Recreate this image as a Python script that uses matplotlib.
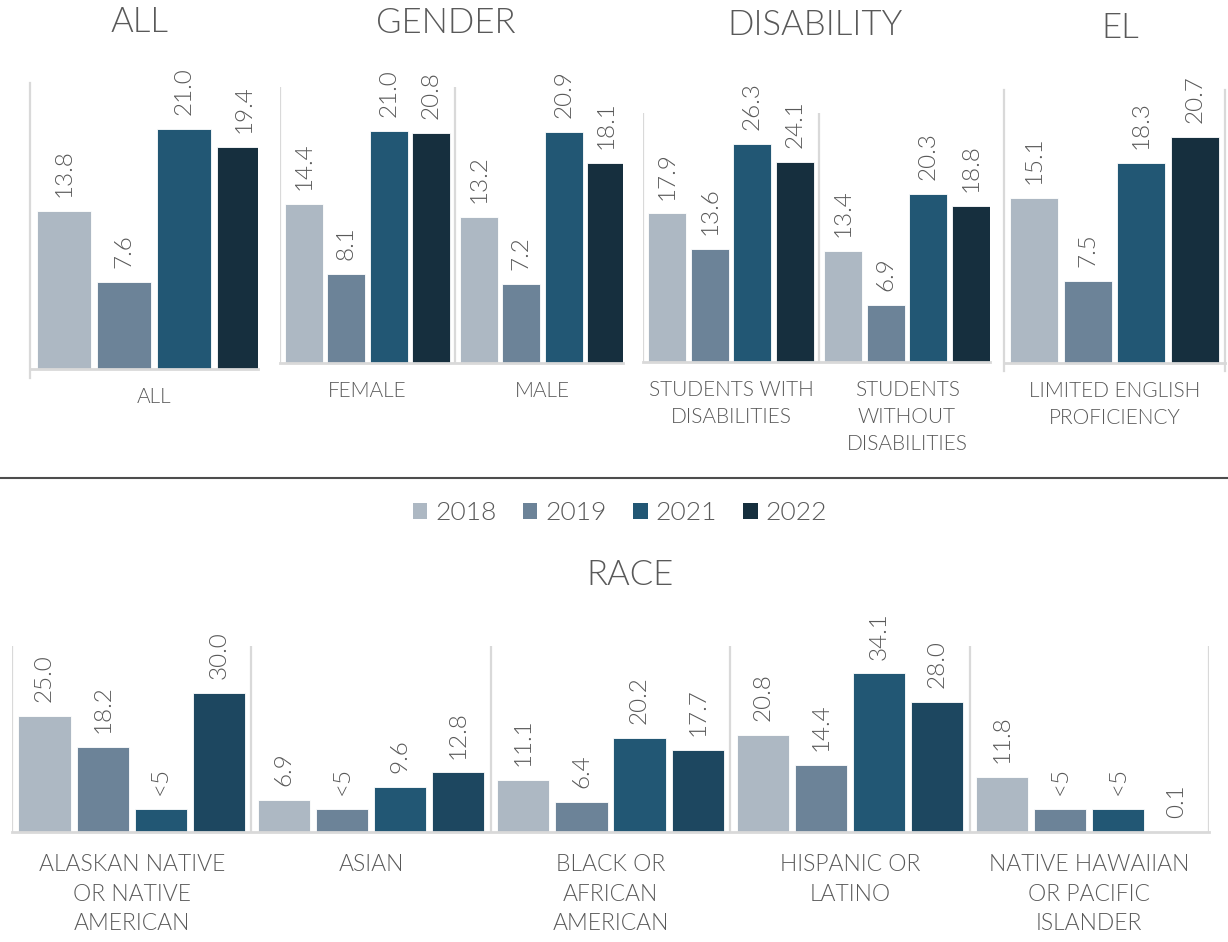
import matplotlib
matplotlib.use("Agg")
import matplotlib.pyplot as plt
from matplotlib.patches import Patch

plt.rcParams['font.family'] = ['Lato', 'DejaVu Sans']
plt.rcParams['font.weight'] = 300

# ---------------- data ----------------
YEARS = ["2018", "2019", "2021", "2022"]
COLORS_TOP = ["#adb8c3", "#6c8398", "#225774", "#162f3e"]
COLORS_RACE = ["#adb8c3", "#6c8398", "#225774", "#1d4760"]

ALL_CATS = ["ALL"]
ALL_VALUES = [[13.8, 7.6, 21.0, 19.4]]

GENDER_CATS = ["FEMALE", "MALE"]
GENDER_VALUES = [[14.4, 8.1, 21.0, 20.8],
                 [13.2, 7.2, 20.9, 18.1]]

DIS_CATS = ["STUDENTS WITH\nDISABILITIES", "STUDENTS\nWITHOUT\nDISABILITIES"]
DIS_VALUES = [[17.9, 13.6, 26.3, 24.1],
              [13.4, 6.9, 20.3, 18.8]]

EL_CATS = ["LIMITED ENGLISH\nPROFICIENCY"]
EL_VALUES = [[15.1, 7.5, 18.3, 20.7]]

RACE_CATS = ["ALASKAN NATIVE\nOR NATIVE\nAMERICAN", "ASIAN",
             "BLACK OR\nAFRICAN\nAMERICAN", "HISPANIC OR\nLATINO",
             "NATIVE HAWAIIAN\nOR PACIFIC\nISLANDER"]
# suppressed cells ("<5") are drawn at 5
RACE_VALUES = [[25.0, 18.2, 5.0, 30.0],
               [6.9, 5.0, 9.6, 12.8],
               [11.1, 6.4, 20.2, 17.7],
               [20.8, 14.4, 34.1, 28.0],
               [11.8, 5.0, 5.0, 0.1]]
RACE_SUPPRESSED = [[False, False, True, False],
                   [False, True, False, False],
                   [False, False, False, False],
                   [False, False, False, False],
                   [False, True, True, False]]

# ---------------- layout ----------------
FW, FH = 1228, 942
fig = plt.figure(figsize=(FW / 100, FH / 100), dpi=100)
TEXT = "#595959"
GRID = "#d9d9d9"
OFFSETS = [-0.364, -0.121, 0.121, 0.364]
BAR_W = 0.218


def rect(x0, y0, x1, y1):
    return [x0 / FW, 1 - y1 / FH, (x1 - x0) / FW, (y1 - y0) / FH]


def panel(box, group_px, cats, values, colors, ymax, suppressed=None,
          val_size=17.5, cat_size=15, cat_off=13, ext_lines=False,
          linespacing=1.45):
    x0, y0, x1, y1 = box
    ax = fig.add_axes(rect(x0, y0, x1, y1))
    n = len(cats)
    ax.set_xlim(-0.5, -0.5 + (x1 - x0) / group_px)
    ax.set_ylim(0, ymax)
    for j in range(4):
        xs = [i + OFFSETS[j] for i in range(n)]
        hs = [values[i][j] for i in range(n)]
        ax.bar(xs, hs, width=BAR_W, color=colors[j], edgecolor="white",
               linewidth=0.6, zorder=2)
        for i in range(n):
            if suppressed is not None and suppressed[i][j]:
                lab = "<5"
            else:
                lab = f"{values[i][j]:.1f}"
            ax.annotate(lab, xy=(xs[i], hs[i]), xytext=(0, 10),
                        textcoords="offset points", rotation=90,
                        ha="center", va="bottom", fontsize=val_size,
                        color=TEXT, annotation_clip=False)
    xmax = ax.get_xlim()[1]
    for b in range(n + 1):
        pos = b - 0.5
        if pos <= xmax + 1e-9:
            if ext_lines:
                ax.axvline(pos, ymin=-0.03, ymax=1, color=GRID, lw=1.6,
                           zorder=1, clip_on=False)
            else:
                ax.axvline(pos, color=GRID, lw=1.6, zorder=1)
    for i, c in enumerate(cats):
        ax.annotate(c, xy=(i, 0), xytext=(0, -cat_off),
                    textcoords="offset points", ha="center", va="top",
                    fontsize=cat_size, color=TEXT, multialignment="center",
                    linespacing=linespacing, annotation_clip=False)
    for s in ["top", "right", "left"]:
        ax.spines[s].set_visible(False)
    ax.spines["bottom"].set_color(GRID)
    ax.spines["bottom"].set_linewidth(2)
    ax.spines["bottom"].set_zorder(3)
    ax.set_xticks([])
    ax.set_yticks([])
    ax.patch.set_alpha(0)
    return ax


panel((30, 83, 258, 369), 248, ALL_CATS, ALL_VALUES, COLORS_TOP, 25,
      ext_lines=True)
panel((280, 87, 623, 363), 175, GENDER_CATS, GENDER_VALUES, COLORS_TOP, 25)
panel((643, 113, 990, 362), 176, DIS_CATS, DIS_VALUES, COLORS_TOP, 30)
panel((1004, 90, 1225, 363), 221, EL_CATS, EL_VALUES, COLORS_TOP, 25,
      ext_lines=True)
panel((12, 646, 1209, 832), 239.4, RACE_CATS, RACE_VALUES, COLORS_RACE, 40,
      suppressed=RACE_SUPPRESSED, cat_size=16.5, cat_off=16, linespacing=1.5)

# titles
for txt, x, y in [("ALL", 140, 22), ("GENDER", 446, 23),
                  ("DISABILITY", 815, 25), ("EL", 1120, 28),
                  ("RACE", 630, 575)]:
    fig.text(x / FW, 1 - y / FH, txt, ha="center", va="center",
             fontsize=25, color=TEXT)

# separator line
fig.add_artist(plt.Line2D([0, 1], [1 - 478 / FH, 1 - 478 / FH],
                          transform=fig.transFigure, color="#4d4d4d",
                          lw=1.5))

# legend
handles = [Patch(facecolor=c, edgecolor="none") for c in COLORS_TOP]
fig.legend(handles, YEARS, loc="center", bbox_to_anchor=(620 / FW, 1 - 513 / FH),
           ncol=4, frameon=False, fontsize=19, handlelength=0.55,
           handleheight=0.55, handletextpad=0.3, columnspacing=1.0,
           labelcolor=TEXT)

fig.savefig("out.png", dpi=100)
